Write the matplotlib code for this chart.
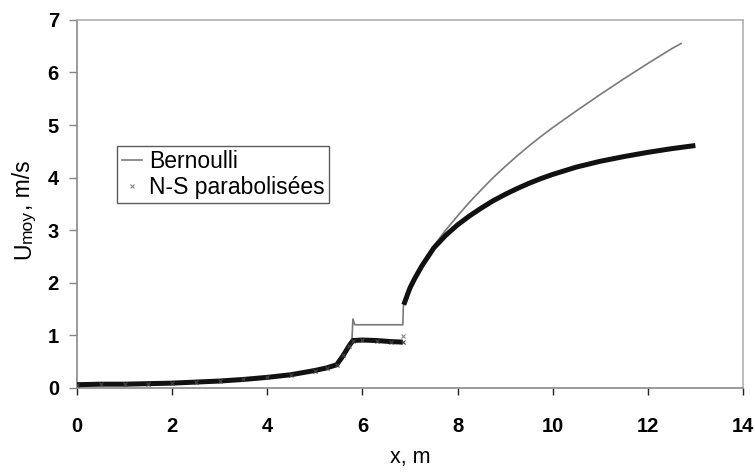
import matplotlib
matplotlib.use("Agg")
import matplotlib.pyplot as plt
from matplotlib.lines import Line2D

# Bernoulli series
bern_x = [0, 0.5, 1, 1.5, 2, 2.5, 3, 3.5, 4, 4.5, 5, 5.25, 5.46, 5.6, 5.72, 5.78, 5.8, 5.84,
          6.85, 6.86, 6.87, 6.95, 7.0, 7.1, 7.25, 7.5, 7.75, 8.0, 8.25, 8.5, 8.75, 9.0, 9.25, 9.5,
          9.75, 10.0, 10.5, 11.0, 11.5, 12.0, 12.5, 12.7]
bern_y = [0.06, 0.07, 0.07, 0.08, 0.09, 0.11, 0.13, 0.16, 0.2, 0.25, 0.33, 0.38, 0.45, 0.62, 0.8, 0.9,
          1.31, 1.2, 1.2, 1.52, 1.6, 1.8, 1.91, 2.09, 2.33, 2.7, 3.0, 3.27, 3.53, 3.77, 4.0, 4.21, 4.41,
          4.6, 4.78, 4.95, 5.27, 5.58, 5.88, 6.17, 6.45, 6.55]

# N-S parabolisées series
ns_x = [0, 0.5, 1, 1.5, 2, 2.5, 3, 3.5, 4, 4.5, 5, 5.25, 5.46, 5.6, 5.72, 5.8, 6.0, 6.3, 6.6, 6.85,
        6.87, 6.95, 7.0, 7.1, 7.25, 7.5, 7.75, 8.0, 8.25, 8.5, 8.75, 9.0, 9.25, 9.5, 9.75, 10.0,
        10.5, 11.0, 11.5, 12.0, 12.5, 13.0]
ns_y = [0.06, 0.07, 0.07, 0.08, 0.09, 0.11, 0.13, 0.16, 0.2, 0.25, 0.33, 0.38, 0.44, 0.62, 0.8, 0.9,
        0.91, 0.9, 0.88, 0.87, 1.58, 1.78, 1.9, 2.08, 2.32, 2.66, 2.9, 3.1, 3.27, 3.42, 3.56, 3.68,
        3.79, 3.89, 3.98, 4.06, 4.2, 4.31, 4.4, 4.48, 4.55, 4.61]
ns_extra_x = [6.85]
ns_extra_y = [0.99]

x_ticks = [0, 2, 4, 6, 8, 10, 12, 14]
y_ticks = [0, 1, 2, 3, 4, 5, 6, 7]

plt.rcParams['font.family'] = ['Liberation Sans', 'DejaVu Sans']

fig = plt.figure(figsize=(7.55, 4.73), dpi=100)
ax = fig.add_axes([0.102, 0.180, 0.882, 0.778])

# N-S: thick black trace made of dense x markers
jump = ns_x.index(6.87)
ax.plot(ns_x[:jump], ns_y[:jump], color='#111111', lw=3.6, solid_capstyle='butt',
        solid_joinstyle='round', zorder=3)
ax.plot(ns_x[jump:], ns_y[jump:], color='#111111', lw=3.6, solid_capstyle='butt',
        solid_joinstyle='round', zorder=3)
ax.plot(ns_x[:jump], ns_y[:jump], ls='none', marker='x', ms=3, mew=0.8, color='#444444', zorder=3)
ax.plot(ns_extra_x, ns_extra_y, ls='none', marker='x', ms=3.5, mew=0.8, color='#888888', zorder=3)

# Bernoulli: thin grey line
ax.plot(bern_x, bern_y, color='#7a7a7a', lw=1.2, zorder=2)

ax.set_xlim(0, 14)
ax.set_ylim(0, 7)
ax.set_xticks(x_ticks)
ax.set_yticks(y_ticks)
ax.set_xticklabels([str(t) for t in x_ticks], fontsize=14.5, fontweight='bold')
ax.set_yticklabels([str(t) for t in y_ticks], fontsize=14.5, fontweight='bold')
ax.tick_params(axis='x', direction='out', length=5, width=1, color='#222222', pad=16)
ax.tick_params(axis='y', direction='out', length=6, width=1, color='#888888', pad=7)

for s in ['top', 'right']:
    ax.spines[s].set_color('#b0b0b0')
    ax.spines[s].set_linewidth(1.2)
for s in ['left', 'bottom']:
    ax.spines[s].set_color('#8a8a8a')
    ax.spines[s].set_linewidth(1.2)

ax.set_xlabel('x, m', fontsize=15.5, labelpad=8)

# y label: "U" + smaller "moy" + ", m/s"
t1 = fig.text(0.016, 0.452, 'U', rotation=90, fontsize=16.5, ha='left', va='bottom')
t2 = ax.annotate('moy', xy=(1, 1), xycoords=t1, rotation=90, fontsize=12.5, ha='right', va='bottom')
t3 = ax.annotate(', m/s', xy=(1, 1), xycoords=t2, rotation=90, fontsize=16.5, ha='right', va='bottom')

handles = [Line2D([], [], color='#7a7a7a', lw=1.2),
           Line2D([], [], ls='none', marker='x', ms=3, mew=0.8, color='#888888')]
leg = ax.legend(handles, ['Bernoulli', 'N-S parabolisées'], loc='upper left',
                bbox_to_anchor=(0.06, 0.658), fontsize=16.5, frameon=True, fancybox=False,
                handlelength=0.9, handletextpad=0.3, borderpad=0.2, labelspacing=0.1,
                borderaxespad=0)
leg.get_frame().set_edgecolor('#333333')
leg.get_frame().set_linewidth(1.0)

fig.savefig('out.png', dpi=100)
